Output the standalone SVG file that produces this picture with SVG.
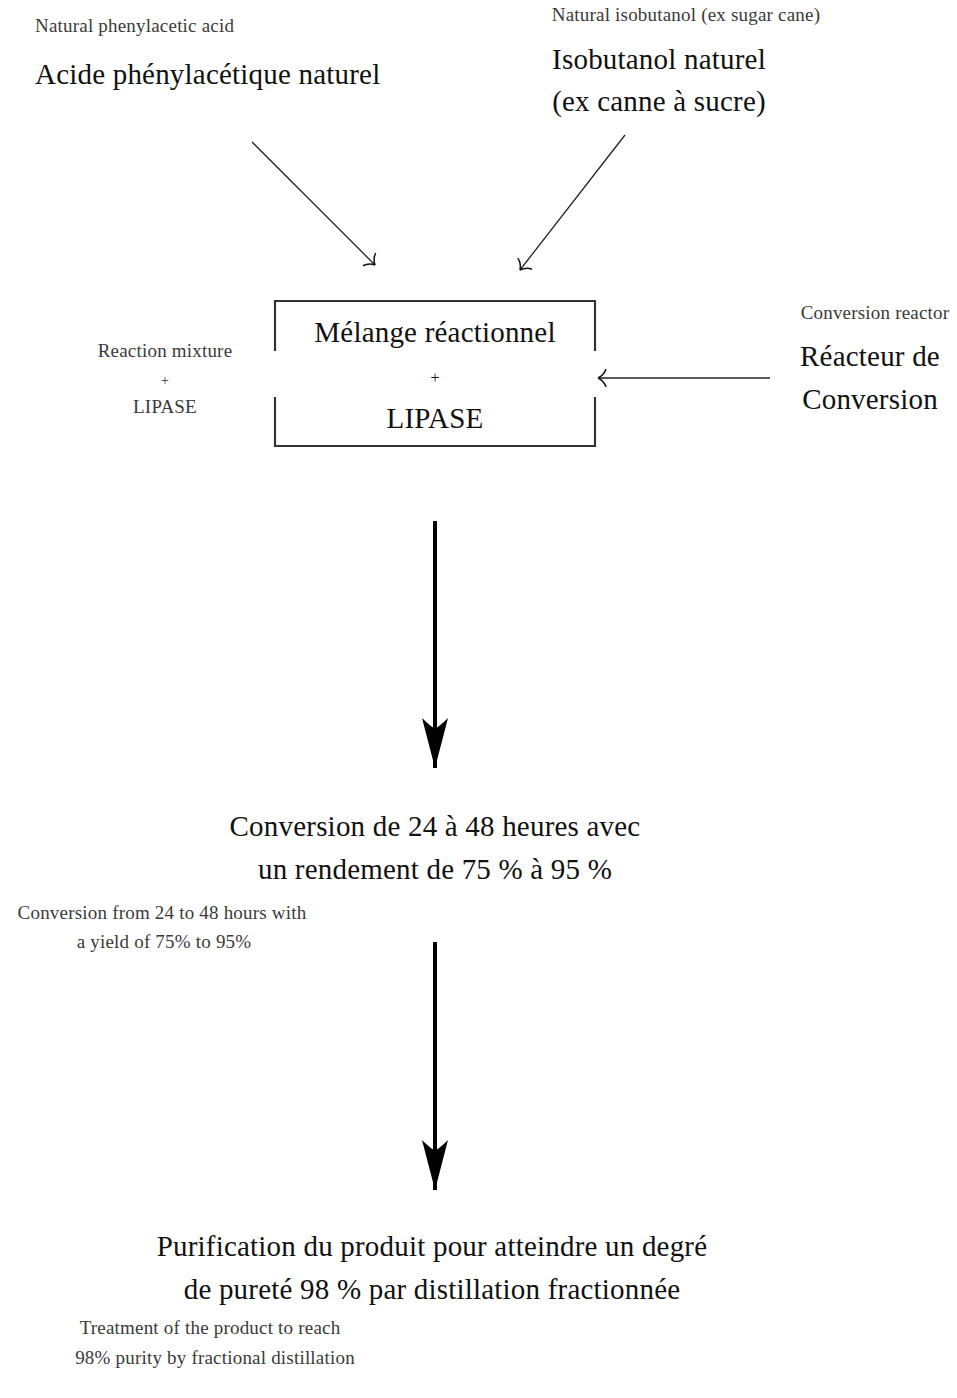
<svg xmlns="http://www.w3.org/2000/svg" width="957" height="1398" viewBox="0 0 957 1398">
<defs>
<style>
text{font-family:"Liberation Serif","DejaVu Serif",serif;fill:#111}
.sm{font-size:19px;letter-spacing:0.2px;fill:#3a3a3a}
.lg{font-size:29px;letter-spacing:0.2px}
.pl{font-size:16px}
.thin{stroke:#222;stroke-width:1.3;fill:none}
.thick{stroke:#000;stroke-width:4;fill:none}
.box{stroke:#333;stroke-width:2.2;fill:none}
</style>
<marker id="open" viewBox="-14 -10 16 20" markerWidth="16" markerHeight="20" refX="0" refY="0" orient="auto" markerUnits="userSpaceOnUse">
<path d="M0 0 Q-6 -3 -8 -9 M0 0 Q-6 3 -8 9" stroke="#111" stroke-width="1.5" fill="none"/>
</marker>
<marker id="solid" viewBox="-2 -15 54 30" markerWidth="54" markerHeight="30" refX="50" refY="0" orient="auto" markerUnits="userSpaceOnUse">
<path d="M50 0 L0 -13 Q10 -3 10 0 Q10 3 0 13 Z" fill="#000"/>
</marker>
</defs>
<rect width="957" height="1398" fill="#fff"/>

<g id="connectors">
<line class="thin" x1="252" y1="142" x2="375" y2="265" marker-end="url(#open)"/>
<line class="thin" x1="625" y1="135" x2="520" y2="270" marker-end="url(#open)"/>
<line class="thin" x1="770" y1="378" x2="598" y2="378" marker-end="url(#open)"/>
<line class="thick" x1="435" y1="521" x2="435" y2="768" marker-end="url(#solid)"/>
<line class="thick" x1="435" y1="942" x2="435" y2="1190" marker-end="url(#solid)"/>
</g>

<g id="node-acid">
<text class="sm" x="35" y="32">Natural phenylacetic acid</text>
<text class="lg" x="35" y="84">Acide phénylacétique naturel</text>
</g>

<g id="node-isobutanol">
<text class="sm" x="686" y="21" text-anchor="middle">Natural isobutanol (ex sugar cane)</text>
<text class="lg" x="659" y="69" text-anchor="middle">Isobutanol naturel</text>
<text class="lg" x="659" y="111" text-anchor="middle">(ex canne à sucre)</text>
</g>

<g id="node-mixture">
<path class="box" d="M275 351 V301 H595 V351 M275 397 V446 H595 V397"/>
<text class="lg" x="435" y="342" text-anchor="middle">Mélange réactionnel</text>
<text class="pl" x="435" y="383" text-anchor="middle">+</text>
<text class="lg" x="435" y="428" text-anchor="middle">LIPASE</text>
</g>

<g id="label-mixture">
<text class="sm" x="165" y="357" text-anchor="middle">Reaction mixture</text>
<text class="pl" x="165" y="385" text-anchor="middle" style="fill:#333;font-size:14px">+</text>
<text class="sm" x="165" y="413" text-anchor="middle">LIPASE</text>
</g>

<g id="node-reactor">
<text class="sm" x="875" y="319" text-anchor="middle">Conversion reactor</text>
<text class="lg" x="870" y="366" text-anchor="middle">Réacteur de</text>
<text class="lg" x="870" y="409" text-anchor="middle">Conversion</text>
</g>

<g id="node-conversion">
<text class="lg" x="435" y="836" text-anchor="middle">Conversion de 24 à 48 heures avec</text>
<text class="lg" x="435" y="879" text-anchor="middle">un rendement de 75 % à 95 %</text>
<text class="sm" x="162" y="919" text-anchor="middle">Conversion from 24 to 48 hours with</text>
<text class="sm" x="164" y="948" text-anchor="middle">a yield of 75% to 95%</text>
</g>

<g id="node-purification">
<text class="lg" x="432" y="1256" text-anchor="middle">Purification du produit pour atteindre un degré</text>
<text class="lg" x="432" y="1299" text-anchor="middle">de pureté 98 % par distillation fractionnée</text>
<text class="sm" x="210" y="1334" text-anchor="middle">Treatment of the product to reach</text>
<text class="sm" x="215" y="1364" text-anchor="middle">98% purity by fractional distillation</text>
</g>
</svg>
